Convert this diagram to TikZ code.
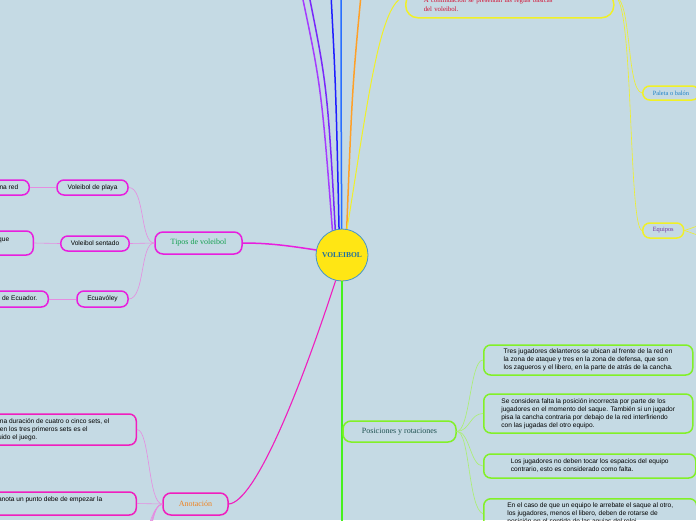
\documentclass[tikz,border=0pt]{standalone}
\usepackage{fontspec}
\setmainfont{Liberation Sans}
\newfontfamily\slabfont{Liberation Serif}
\usepackage{tikz}
\usetikzlibrary{arrows.meta,positioning,calc}
\usepackage{xcolor}
\definecolor{bgcol}{RGB}{197,218,228}
\definecolor{hubcol}{RGB}{255,230,20}
\definecolor{hubedge}{RGB}{70,150,200}
\definecolor{hubtext}{RGB}{30,110,160}
\definecolor{magcol}{RGB}{232,30,222}
\definecolor{magthin}{RGB}{230,140,225}
\definecolor{pinkcol}{RGB}{240,30,190}
\definecolor{greencol}{RGB}{70,240,30}
\definecolor{limecol}{RGB}{130,240,40}
\definecolor{limethin}{RGB}{170,240,110}
\definecolor{yelcol}{RGB}{240,240,40}
\definecolor{purpcol}{RGB}{165,60,255}
\definecolor{violcol}{RGB}{120,40,250}
\definecolor{bluecol}{RGB}{30,30,255}
\definecolor{skycol}{RGB}{40,110,255}
\definecolor{orancol}{RGB}{255,160,40}
\definecolor{redtext}{RGB}{210,16,50}
\definecolor{tiposcol}{RGB}{20,160,80}
\definecolor{anotcol}{RGB}{240,130,30}
\definecolor{posicol}{RGB}{30,80,80}
\definecolor{paletacol}{RGB}{30,130,200}
\definecolor{equicol}{RGB}{112,48,160}
\tikzset{
  % central topic
  hubnode/.style={circle, draw=hubedge, line width=0.8pt, fill=hubcol, minimum size=52pt, inner sep=0pt,
                  font=\slabfont\fontsize{7.5}{8}\selectfont\bfseries, text=hubtext},
  % main topic box
  topicbox/.style={rectangle, rounded corners=8pt, draw=#1, line width=1.5pt, minimum height=22pt,
                   inner xsep=10pt, font=\slabfont\fontsize{8}{9}\selectfont},
  % leaf box
  leafbox/.style={rectangle, rounded corners=7pt, draw=#1, line width=1.5pt, inner xsep=10pt, inner ysep=3pt,
                  minimum height=15pt, align=left, font=\fontsize{6.6}{8}\selectfont},
  % thick branch line
  branch/.style={line width=1.5pt, #1},
  % thin sub-branch line
  twig/.style={line width=0.6pt, #1},
}

\begin{document}
\begin{tikzpicture}[x=1pt,y=-1pt]
  \useasboundingbox (0,0) rectangle (696,520);
  \clip (0,0) rectangle (696,520);
  \fill[bgcol] (0,0) rectangle (696,520);

  % branches leaving the frame at the top
  \coordinate (toppurp) at (302,-5);
  \coordinate (topviol) at (309,-5);
  \coordinate (topblue) at (331,-5);
  \coordinate (topsky) at (341,-5);
  \coordinate (toporan) at (361,-5);
  \draw[branch=purpcol] (342,255) ++(103:26) .. controls (322,90) .. (toppurp);
  \draw[branch=violcol] (342,255) ++(99:26) .. controls (328,90) .. (topviol);
  \draw[branch=bluecol] (342,255) ++(94:26) .. controls (336,90) .. (topblue);
  \draw[branch=skycol] (342,255) ++(90:26) .. controls (341,90) .. (topsky);
  \draw[branch=orancol] (342,255) ++(84:26) .. controls (352,90) .. (toporan);

  % centre
  \node[hubnode] (voleibol) at (342,255) {VOLEIBOL};

  % rules box (top)
  \node[leafbox=yelcol, anchor=south west, text=redtext, font=\slabfont\fontsize{6.8}{9}\selectfont,
        inner xsep=18pt, inner ysep=6pt, text width=172pt, rounded corners=12pt] (reglas) at (405,18.5)
    {A continuación se presentan las reglas básicas\\del voleibol.};
  \node[leafbox=yelcol, anchor=west, text=paletacol, font=\slabfont\fontsize{6.4}{8}\selectfont,
        minimum height=14pt] (paleta) at (642,93) {Paleta o balón};
  \node[leafbox=yelcol, anchor=west, text=equicol, font=\slabfont\fontsize{6.4}{8}\selectfont,
        minimum height=15pt, inner xsep=10pt] (equipos) at (642,230.5) {Equipos};
  \coordinate (eqforka) at (706,223);
  \coordinate (eqforkb) at (706,238);
  \draw[branch=yelcol, line width=1pt] (voleibol.79) .. controls (368,100) and (380,0) .. ([yshift=8pt]reglas.west);
  \draw[twig=yelcol] ([yshift=8pt]reglas.east) .. controls (632,-4) and (626,90) .. (paleta.west);
  \draw[twig=yelcol] ([yshift=8pt]reglas.east) .. controls (634,-4) and (628,228) .. (equipos.west);
  \draw[twig=yelcol] (equipos.east) -- (eqforka);
  \draw[twig=yelcol] (equipos.east) -- (eqforkb);

  % types of volleyball
  \node[topicbox=magcol, text=tiposcol, minimum width=87pt] (tipos) at (198.5,243) {Tipos de voleibol};
  \node[leafbox=magcol, minimum width=71pt] (playa) at (92.5,187.5) {Voleibol de playa};
  \node[leafbox=magcol, minimum width=66pt] (sentado) at (95,243.5) {Voleibol sentado};
  \node[leafbox=magcol, minimum width=51pt, minimum height=16pt] (ecuavoley) at (102.5,299) {Ecuavóley};
  \node[leafbox=magcol, anchor=east, inner xsep=11pt] (playared) at (30,187.5) {sobre una red};
  \node[leafbox=magcol, anchor=east, inner xsep=24pt, minimum height=24pt] (sentadoque) at (34,243)
    {jugadores con discapacidad en el que\\sentados.};
  \node[leafbox=magcol, anchor=east, inner xsep=11pt, minimum height=16pt] (ecuaorigen) at (49,299)
    {originario de Ecuador.};
  \draw[branch=magcol] (voleibol.169) .. controls (290,246) and (270,243) .. (tipos.east);
  \draw[twig=magthin] (tipos.west) .. controls (140,243) and (145,187.5) .. (playa.east);
  \draw[twig=magthin] (tipos.west) -- (sentado.east);
  \draw[twig=magthin] (tipos.west) .. controls (140,243) and (145,299) .. (ecuavoley.east);
  \draw[twig=magthin] (playa.west) -- (playared.east);
  \draw[twig=magthin] (sentado.west) -- (sentadoque.east);
  \draw[twig=magthin] (ecuavoley.west) -- (ecuaorigen.east);

  % scoring
  \node[topicbox=pinkcol, text=anotcol, minimum width=65pt] (anotacion) at (195.5,504) {Anotación};
  \node[leafbox=pinkcol, anchor=east, inner xsep=27pt, minimum height=31pt] (anotduracion) at (137,429.5)
    {Los partidos tienen una duración de cuatro o cinco sets, el\\equipo que los gane en los tres primeros sets es el\\ganador al ser concluido el juego.};
  \node[leafbox=pinkcol, anchor=east, inner xsep=34pt, minimum height=23pt] (anotpunto) at (137,503.5)
    {El equipo que anota un punto debe de empezar la\\jugada.};
  \coordinate (anotfa) at (138,545);
  \coordinate (anotfb) at (138,575);
  \coordinate (anotfc) at (138,605);
  \coordinate (anotfd) at (138,635);
  \draw[branch=pinkcol, line width=1.1pt] (voleibol.256) .. controls (300,390) and (255,502) .. (anotacion.east);
  \draw[twig=magthin] (anotacion.west) .. controls (148,504) and (150,430) .. (anotduracion.east);
  \draw[twig=magthin] (anotacion.west) -- (anotpunto.east);
  \foreach \f in {anotfa,anotfb,anotfc,anotfd}
    \draw[twig=magthin] (anotacion.west) .. controls (152,506) and (150,530) .. (\f);

  % positions and rotations
  \coordinate (greenend) at (342,530);
  \draw[branch=greencol, line width=2pt] (voleibol.south) -- (greenend);
  \node[topicbox=limecol, text=posicol, minimum width=113pt, minimum height=21pt] (posiciones) at (399.5,431.5)
    {Posiciones y rotaciones};
  \node[leafbox=limecol, anchor=west, minimum width=209pt, minimum height=30pt] (posfrente) at (483,360)
    {Tres jugadores delanteros se ubican al frente de la red en\\la zona de ataque y tres en la zona de defensa, que son\\los zagueros y el libero, en la parte de atrás de la cancha.};
  \node[leafbox=limecol, anchor=west, minimum width=209pt, minimum height=39pt] (posfalta) at (483,413.5)
    {Se considera falta la posición incorrecta por parte de los\\jugadores en el momento del saque. También si un jugador\\pisa la cancha contraria por debajo de la red interfiriendo\\con las jugadas del otro equipo.};
  \node[leafbox=limecol, anchor=west, minimum width=212pt, minimum height=24pt] (posespacio) at (483,466)
    {Los jugadores no deben tocar los espacios del equipo\\contrario, esto es considerado como falta.};
  \node[leafbox=limecol, anchor=north west, minimum width=213pt, inner ysep=4pt] (posrota) at (483,498)
    {En el caso de que un equipo le arrebate el saque al otro,\\los jugadores, menos el libero, deben de rotarse de\\posición en el sentido de las agujas del reloj.};
  \coordinate (posout) at (706,480);
  \draw[twig=limethin] (posiciones.east) .. controls (470,431) and (470,360) .. (posfrente.west);
  \draw[twig=limethin] (posiciones.east) .. controls (470,431) and (470,413.5) .. (posfalta.west);
  \draw[twig=limethin] (posiciones.east) .. controls (470,431) and (470,466) .. (posespacio.west);
  \draw[twig=limethin] (posiciones.east) .. controls (470,431) and (468,508) .. (posrota.west);
  \draw[twig=limethin] (posespacio.east) .. controls (700,466) and (700,474) .. (posout);
\end{tikzpicture}
\end{document}
